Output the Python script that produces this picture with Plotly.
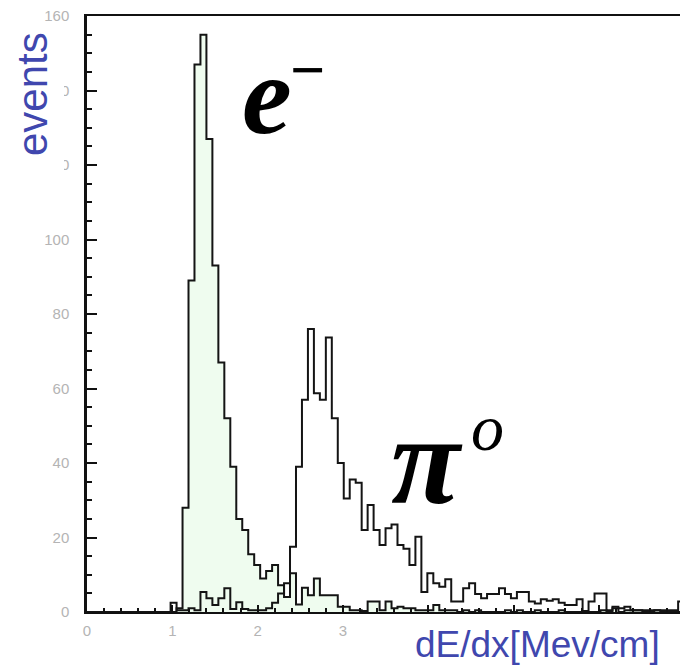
import numpy as np
import plotly.graph_objects as go

# ---------------- data ----------------
BIN_W = 0.07          # dE/dx bin width [MeV/cm]
N_BINS = 100          # 0 .. 7 MeV/cm

electron_counts = [
    0, 0, 0, 0, 0, 0, 0, 0, 0, 0,
    0, 0, 0, 0, 0, 1, 28, 89, 147, 155,
    127, 93, 67, 52, 39, 25, 22, 15.5, 12.6, 9,
    11, 12.6, 7.2, 4, 10.4, 2, 6.5, 4.5, 9, 4.5,
    4.5, 4.5, 1.4, 1.4, 0.5, 0.5, 0.3, 2.8, 2.8, 0.5,
    2.8, 1, 1.4, 1, 1, 0.5, 0.5, 0.5, 1.9, 0.5,
    0.5, 0.5, 0, 0.5, 0, 0.5, 0, 0, 0, 0,
    0.5, 0, 0.5, 0, 0, 0.5, 0, 0, 0, 0.5,
    0, 0, 0, 0, 0, 0, 0.5, 0, 1, 0,
    0.5, 0.5, 0.5, 0, 0, 0.5, 0, 0, 0, 0,
]

pion_counts = [
    0, 0, 0, 0, 0, 0, 0, 0, 0, 0,
    0, 0, 0, 0, 2.5, 0.5, 0.5, 1, 0.5, 5.4,
    3.7, 1.9, 3.7, 6.4, 0.8, 2.6, 0.8, 0.5, 0.5, 0.5,
    1, 2.5, 5, 7.7, 17.5, 39, 57, 76, 58.7, 57,
    73.7, 52, 40, 30.5, 35.6, 34.7, 22, 28.7, 22, 18,
    22.5, 23.5, 18, 17, 12.6, 20.2, 5.4, 10.4, 7.7, 6.8,
    8.8, 2.8, 2.8, 6.4, 7.7, 4.8, 3.7, 4.8, 4.8, 6.4,
    4.8, 3.7, 5.4, 5.4, 2.8, 2.3, 3.4, 3, 3.4, 2.5,
    1.9, 1.9, 3.4, 0.3, 2.8, 5, 5, 0.5, 1.4, 1,
    1.4, 0.5, 0.5, 0.5, 0.5, 0.5, 0.5, 0.5, 0.5, 2.8,
]

x_tick_vals = [0, 1, 2, 3, 4, 5, 6]
x_tick_text = ["0", "1", "2", "3", "", "", ""]
y_tick_vals = [0, 20, 40, 60, 80, 100, 120, 140, 160]
y_tick_text = ["0", "20", "40", "60", "80", "100", "120", "140", "160"]

# ---------------- figure ----------------
W, H = 680, 672
ML, MR, MT, MB = 87, 0, 16, 60
PW, PH = W - ML - MR, H - MT - MB
PX_PER_UNIT = 85.3
X_MAX = PW / PX_PER_UNIT

edges = np.round(np.arange(N_BINS + 1) * BIN_W, 4)


def step_y(counts):
    return list(counts) + [counts[-1]]


def px(xp):   # pixel -> paper x
    return (xp - ML) / PW


def py(yp):   # pixel -> paper y
    return (MT + PH - yp) / PH


BLUE = "#4047ae"
GREY = "#b4b4b4"

fig = go.Figure()
fig.add_trace(go.Scatter(
    x=edges, y=step_y(electron_counts), mode="lines",
    line=dict(shape="hv", color="#141414", width=2),
    fill="tozeroy", fillcolor="#effcef",
    hoverinfo="skip", showlegend=False,
))
fig.add_trace(go.Scatter(
    x=edges, y=step_y(pion_counts), mode="lines",
    line=dict(shape="hv", color="#141414", width=2),
    hoverinfo="skip", showlegend=False,
))

fig.update_layout(
    width=W, height=H,
    margin=dict(l=ML, r=MR, t=MT, b=MB, pad=0),
    paper_bgcolor="white", plot_bgcolor="white",
    font=dict(family="Liberation Sans, Arial, sans-serif"),
)
fig.update_xaxes(
    range=[0, X_MAX], showgrid=False, zeroline=False,
    showline=True, linecolor="#111", linewidth=2, mirror=True,
    tickmode="array", tickvals=x_tick_vals, ticktext=x_tick_text,
    ticks="inside", ticklen=7, tickwidth=1.5, tickcolor="#111",
    minor=dict(tick0=0, dtick=0.2, ticks="inside", ticklen=4,
               tickwidth=1.5, tickcolor="#111"),
    tickfont=dict(size=15, color=GREY), ticklabelstandoff=4,
)
fig.update_yaxes(
    range=[0, 160], showgrid=False, zeroline=False,
    showline=True, linecolor="#111", linewidth=2.5, mirror=False,
    tickmode="array", tickvals=y_tick_vals, ticktext=y_tick_text,
    ticks="inside", ticklen=10, tickwidth=2, tickcolor="#111",
    minor=dict(tick0=0, dtick=5, ticks="inside", ticklen=5,
               tickwidth=2, tickcolor="#111"),
    tickfont=dict(size=15, color=GREY), ticklabelstandoff=12,
)

# white text-box of the "events" label hiding part of the upper tick labels
fig.add_shape(type="rect", xref="paper", yref="paper",
              x0=px(0), x1=px(64), y0=py(185), y1=py(28),
              fillcolor="white", line=dict(width=0), layer="above")

fig.add_annotation(text="events", xref="paper", yref="paper",
                   x=px(33), y=py(94), xanchor="center", yanchor="middle",
                   textangle=-90, showarrow=False,
                   font=dict(size=42, color=BLUE,
                             family="Liberation Sans, Arial, sans-serif"))
fig.add_annotation(text="dE/dx[Mev/cm]", xref="paper", yref="paper",
                   x=px(537), y=py(644), xanchor="center", yanchor="middle",
                   showarrow=False,
                   font=dict(size=37, color=BLUE,
                             family="Liberation Sans, Arial, sans-serif"))

SERIF = "Liberation Serif, Times New Roman, serif"
fig.add_annotation(text="<b><i>e</i></b>", x=2.11, y=138.8,
                   xanchor="center", yanchor="middle", showarrow=False,
                   font=dict(size=112, color="black", family=SERIF))
fig.add_annotation(text="<b>−</b>", x=2.58, y=145.5,
                   xanchor="center", yanchor="middle", showarrow=False,
                   font=dict(size=62, color="black", family=SERIF))
fig.add_annotation(text="<b><i>π</i></b>", x=3.99, y=40.8,
                   xanchor="center", yanchor="middle", showarrow=False,
                   font=dict(size=126, color="black", family=SERIF))
fig.add_annotation(text="<i>o</i>", x=4.69, y=49.5,
                   xanchor="center", yanchor="middle", showarrow=False,
                   font=dict(size=66, color="black", family=SERIF))

fig.write_html("out.html")
